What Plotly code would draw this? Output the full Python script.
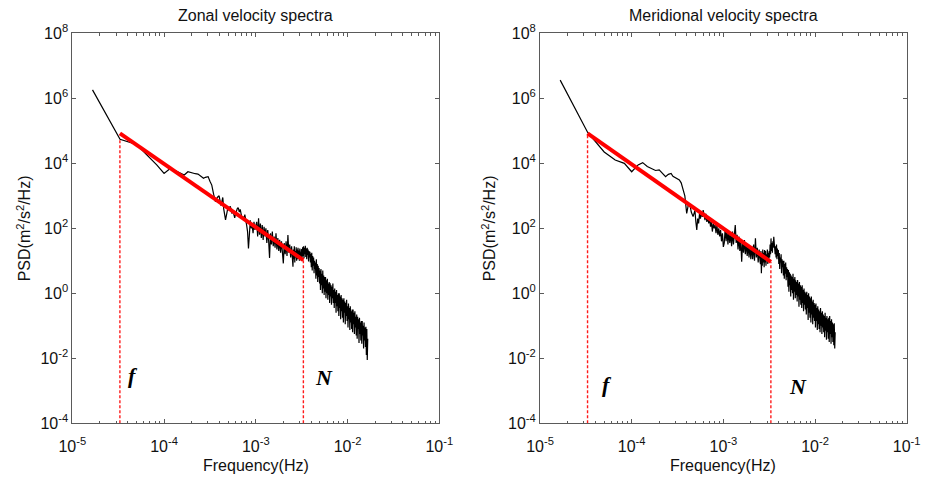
import plotly.graph_objects as go

# ---------------- data ----------------
# frequency grid, log10(Hz)
logf_low = [-4.78, -4.48, -4.30, -4.18, -4.08, -4.00, -3.93, -3.88, -3.83, -3.78,
            -3.74, -3.70, -3.66, -3.63, -3.60, -3.57, -3.55, -3.52, -3.50, -3.48,
            -3.46, -3.44, -3.42, -3.40, -3.38, -3.36, -3.35, -3.33, -3.31, -3.30]
logf_mid = [-3.29, -3.28, -3.27, -3.26, -3.25, -3.24, -3.23, -3.22, -3.21, -3.20,
            -3.19, -3.18, -3.17, -3.16, -3.15, -3.14, -3.13, -3.12, -3.11, -3.10,
            -3.09, -3.08, -3.07, -3.06, -3.05, -3.04, -3.03, -3.02, -3.01, -3.00,
            -2.99, -2.98, -2.97, -2.96, -2.95, -2.94, -2.93, -2.92, -2.91, -2.90,
            -2.89, -2.88, -2.87, -2.86, -2.85, -2.84, -2.83, -2.82, -2.81, -2.80,
            -2.79, -2.78, -2.77, -2.76, -2.75, -2.74, -2.73, -2.72, -2.71, -2.70,
            -2.69, -2.68, -2.67, -2.66, -2.65, -2.64, -2.63, -2.62, -2.61, -2.60]
logf_dense = [-2.595, -2.590, -2.585, -2.580, -2.575, -2.570, -2.565, -2.560, -2.555, -2.550,
              -2.545, -2.540, -2.535, -2.530, -2.525, -2.520, -2.515, -2.510, -2.505, -2.500,
              -2.495, -2.490, -2.485, -2.480, -2.475, -2.470, -2.465, -2.460, -2.455, -2.450,
              -2.445, -2.440, -2.435, -2.430, -2.425, -2.420, -2.415, -2.410, -2.405, -2.400,
              -2.395, -2.390, -2.385, -2.380, -2.375, -2.370, -2.365, -2.360, -2.355, -2.350,
              -2.345, -2.340, -2.335, -2.330, -2.325, -2.320, -2.315, -2.310, -2.305, -2.300,
              -2.295, -2.290, -2.285, -2.280, -2.275, -2.270, -2.265, -2.260, -2.255, -2.250,
              -2.245, -2.240, -2.235, -2.230, -2.225, -2.220, -2.215, -2.210, -2.205, -2.200,
              -2.195, -2.190, -2.185, -2.180, -2.175, -2.170, -2.165, -2.160, -2.155, -2.150,
              -2.145, -2.140, -2.135, -2.130, -2.125, -2.120, -2.115, -2.110, -2.105, -2.100,
              -2.095, -2.090, -2.085, -2.080, -2.075, -2.070, -2.065, -2.060, -2.055, -2.050,
              -2.045, -2.040, -2.035, -2.030, -2.025, -2.020, -2.015, -2.010, -2.005, -2.000,
              -1.995, -1.990, -1.985, -1.980, -1.975, -1.970, -1.965, -1.960, -1.955, -1.950,
              -1.945, -1.940, -1.935, -1.930, -1.925, -1.920, -1.915, -1.910, -1.905, -1.900,
              -1.895, -1.890, -1.885, -1.880, -1.875, -1.870, -1.865, -1.860, -1.855, -1.850,
              -1.845, -1.840, -1.835, -1.830, -1.825, -1.820, -1.815, -1.810, -1.805, -1.800,
              -1.795, -1.790, -1.785, -1.780]

# PSD, log10(m^2/s^2/Hz)
zonal_low = [6.26, 4.74, 4.58, 4.25, 3.95, 3.69, 3.85, 3.78, 3.70, 3.64,
             3.74, 3.70, 3.68, 3.67, 3.60, 3.54, 3.57, 3.59, 3.45, 3.33,
             3.05, 2.82, 2.95, 3.00, 2.70, 2.95, 2.60, 2.26, 2.55, 2.66]
zonal_mid = [2.55, 2.68, 2.60, 2.45, 2.55, 2.42, 2.32, 2.45, 2.55, 2.62,
             2.62, 2.50, 2.58, 2.40, 2.30, 2.36, 2.25, 2.42, 2.30, 2.10,
             1.90, 1.38, 1.80, 2.25, 2.00, 2.10, 1.85, 2.20, 1.95, 2.05,
             2.20, 1.75, 2.31, 1.80, 2.15, 1.70, 2.10, 1.64, 2.05, 1.75,
             2.00, 1.55, 1.95, 1.60, 1.09, 1.85, 1.50, 1.90, 1.45, 1.75,
             1.40, 1.85, 1.35, 1.70, 1.30, 1.65, 1.25, 1.60, 1.20, 0.92,
             1.55, 1.20, 1.60, 1.15, 1.79, 1.25, 1.50, 1.10, 1.45, 1.05]
zonal_dense = [0.82, 1.35, 1.05, 1.45, 0.95, 1.30, 1.10, 1.42, 1.00, 1.35,
               1.05, 1.40, 1.10, 1.32, 1.00, 1.38, 1.15, 1.30, 1.02, 1.36,
               1.10, 1.42, 1.15, 1.45, 1.08, 1.40, 1.20, 1.46, 1.12, 1.38,
               1.05, 1.40, 1.18, 1.35, 0.98, 1.30, 1.10, 1.28, 0.95, 1.22,
               0.80, 1.25, 0.70, 1.15, 0.85, 1.10, 0.62, 1.00, 0.75, 0.95,
               0.45, 1.05, 0.55, 0.90, 0.35, 0.85, 0.50, 0.78, 0.30, 0.70,
               0.10, 0.75, 0.25, 0.60, 0.00, 0.70, 0.15, 0.55, -0.05, 0.50,
               0.05, 0.50, -0.15, 0.40, 0.00, 0.45, -0.20, 0.30, -0.05, 0.35,
               -0.30, 0.31, -0.10, 0.25, -0.35, 0.20, -0.15, 0.30, -0.30, 0.10,
               -0.45, 0.15, -0.30, 0.05, -0.60, 0.10, -0.40, -0.05, -0.55, 0.00,
               -0.70, 0.00, -0.45, -0.10, -0.80, -0.05, -0.55, -0.15, -0.75, -0.20,
               -0.90, -0.15, -0.60, -0.25, -0.95, -0.30, -0.70, -0.20, -0.85, -0.40,
               -1.05, -0.31, -0.80, -0.45, -1.13, -0.40, -0.90, -0.55, -1.10, -0.50,
               -1.20, -0.50, -0.95, -0.60, -1.25, -0.55, -1.05, -0.72, -1.30, -0.65,
               -1.40, -0.72, -1.10, -0.80, -1.53, -0.75, -1.25, -0.90, -1.45, -0.85,
               -1.55, -0.85, -1.30, -1.00, -1.70, -0.90, -1.45, -1.05, -1.65, -1.03,
               -1.90, -1.10, -2.05, -1.40]

meridional_low = [6.56, 4.95, 4.35, 4.10, 4.00, 3.74, 3.95, 4.02, 3.90, 3.82,
                  3.78, 3.80, 3.66, 3.59, 3.66, 3.69, 3.60, 3.55, 3.52, 3.49,
                  3.40, 3.20, 3.00, 2.46, 2.75, 2.66, 2.50, 2.36, 2.55, 2.20]
meridional_mid = [1.95, 2.30, 2.15, 2.45, 2.30, 2.50, 2.35, 2.56, 2.40, 2.25,
                  2.45, 2.20, 2.35, 2.15, 2.30, 2.05, 2.20, 1.90, 2.15, 2.00,
                  2.10, 1.85, 2.10, 1.80, 2.00, 1.75, 1.95, 1.60, 1.85, 1.43,
                  1.55, 2.00, 1.60, 1.95, 1.50, 1.90, 1.55, 1.85, 1.45, 1.90,
                  1.50, 1.85, 2.10, 1.55, 1.80, 1.35, 1.75, 1.30, 1.65, 0.97,
                  1.60, 1.25, 1.64, 1.20, 1.55, 1.15, 1.50, 1.10, 1.45, 1.05,
                  1.45, 1.05, 1.50, 1.00, 1.69, 1.10, 1.40, 0.95, 1.35, 1.00]
meridional_dense = [0.90, 1.30, 0.62, 1.20, 0.85, 1.35, 0.95, 1.25, 0.80, 1.33,
                    0.95, 1.30, 0.85, 1.20, 1.00, 1.35, 0.90, 1.25, 1.05, 1.30,
                    1.10, 1.50, 1.20, 1.69, 1.30, 1.55, 1.25, 1.60, 1.40, 1.74,
                    1.35, 1.55, 1.20, 1.45, 1.10, 1.50, 1.05, 1.38, 1.15, 1.33,
                    0.90, 1.24, 0.75, 1.10, 0.95, 1.20, 0.62, 1.05, 0.80, 1.00,
                    0.55, 1.00, 0.45, 0.90, 0.60, 0.95, 0.40, 0.80, 0.50, 0.75,
                    0.20, 0.72, 0.05, 0.65, 0.25, 0.60, -0.10, 0.55, 0.10, 0.50,
                    0.00, 0.60, -0.20, 0.45, 0.05, 0.50, -0.15, 0.40, -0.05, 0.35,
                    -0.25, 0.41, -0.10, 0.30, -0.41, 0.35, -0.20, 0.25, -0.35, 0.20,
                    -0.45, 0.25, -0.30, 0.10, -0.55, 0.15, -0.35, 0.05, -0.50, 0.00,
                    -0.65, 0.05, -0.45, -0.05, -0.82, 0.00, -0.60, -0.10, -0.75, -0.15,
                    -0.90, -0.10, -0.65, -0.25, -0.95, -0.20, -0.75, -0.30, -0.85, -0.35,
                    -1.05, -0.31, -0.85, -0.45, -1.13, -0.40, -0.95, -0.50, -1.10, -0.55,
                    -1.20, -0.45, -1.00, -0.60, -1.25, -0.55, -1.05, -0.65, -1.20, -0.70,
                    -1.35, -0.60, -1.15, -0.75, -1.43, -0.70, -1.20, -0.80, -1.40, -0.75,
                    -1.50, -0.70, -1.25, -0.85, -1.55, -0.80, -1.35, -0.90, -1.50, -0.95,
                    -1.60, -0.92, -1.70, -1.20]

# fitted power law (red): endpoints
fit_freq = [3.3e-5, 3.3e-3]
zonal_fit_psd = [8.3e4, 10.5]
meridional_fit_psd = [8.3e4, 9.3]

# inertial (f) and buoyancy (N) frequencies, and tops of their marker lines
f_freq = 3.3e-5
N_freq = 3.3e-3
zonal_marker_top = [5.2e4, 10.5]
meridional_marker_top = [8.3e4, 9.3]

titles = ["Zonal velocity spectra", "Meridional velocity spectra"]
x_tick_vals = [1e-5, 1e-4, 1e-3, 1e-2, 1e-1]
x_tick_text = ["10<sup>-5</sup>", "10<sup>-4</sup>", "10<sup>-3</sup>", "10<sup>-2</sup>", "10<sup>-1</sup>"]
y_tick_vals = [1e-4, 1e-2, 1e0, 1e2, 1e4, 1e6, 1e8]
y_tick_text = ["10<sup>-4</sup>", "10<sup>-2</sup>", "10<sup>0</sup>", "10<sup>2</sup>",
               "10<sup>4</sup>", "10<sup>6</sup>", "10<sup>8</sup>"]
# label positions (log10 units) for f and N
zonal_label_pos = [(-4.34, -2.54), (-2.26, -2.58)]
meridional_label_pos = [(-4.27, -2.82), (-2.19, -2.87)]

# ---------------- figure ----------------
freq = [10 ** v for v in logf_low + logf_mid + logf_dense]
panels = [
    (zonal_low + zonal_mid + zonal_dense, zonal_fit_psd, zonal_marker_top, zonal_label_pos),
    (meridional_low + meridional_mid + meridional_dense, meridional_fit_psd,
     meridional_marker_top, meridional_label_pos),
]

fig = go.Figure()
AX = "#5a5a5a"
RED = "#ff1a1a"
FONT = "Liberation Sans, Arial, sans-serif"
x_domains = [[0.0782, 0.4749], [0.5838, 0.9802]]
y_domain = [0.1144, 0.9303]
minor_x = [k * 10 ** e for e in range(-5, -1) for k in range(2, 10)]

annotations = []
for i, (logpsd, fitp, mtop, labpos) in enumerate(panels):
    xa = "x" if i == 0 else "x2"
    ya = "y" if i == 0 else "y2"
    psd = [10 ** v for v in logpsd]
    fig.add_trace(go.Scatter(x=freq, y=psd, mode="lines", xaxis=xa, yaxis=ya,
                             line=dict(color="black", width=1.2), showlegend=False))
    # dashed marker lines at f and N
    fig.add_trace(go.Scatter(x=[f_freq, f_freq], y=[1e-4, mtop[0]], mode="lines", xaxis=xa, yaxis=ya,
                             line=dict(color=RED, width=1.4, dash="3px,2px"), showlegend=False))
    fig.add_trace(go.Scatter(x=[N_freq, N_freq], y=[1e-4, mtop[1]], mode="lines", xaxis=xa, yaxis=ya,
                             line=dict(color=RED, width=1.4, dash="3px,2px"), showlegend=False))
    fig.add_trace(go.Scatter(x=fit_freq, y=fitp, mode="lines", xaxis=xa, yaxis=ya,
                             line=dict(color="#ff0000", width=4), showlegend=False))

    axis_common = dict(type="log", showline=True, linecolor=AX, linewidth=1, mirror="allticks",
                       ticks="inside", tickcolor=AX, ticklen=4, showgrid=False, zeroline=False,
                       automargin=False,
                       tickfont=dict(family=FONT, size=16, color="#111"))
    xkey = "xaxis" if i == 0 else "xaxis2"
    ykey = "yaxis" if i == 0 else "yaxis2"
    fig.update_layout(**{
        xkey: dict(axis_common, domain=x_domains[i], range=[-5, -1], anchor=ya,
                   tickmode="array", tickvals=x_tick_vals, ticktext=x_tick_text,
                   ticklabelstandoff=8,
                   minor=dict(tickmode="array", tickvals=minor_x, ticks="inside", ticklen=2.5,
                              tickcolor=AX, showgrid=False)),
        ykey: dict(axis_common, domain=y_domain, range=[-4, 8], anchor=xa,
                   tickmode="array", tickvals=y_tick_vals, ticktext=y_tick_text),
    })
    xc = (x_domains[i][0] + x_domains[i][1]) / 2
    annotations.append(dict(text=titles[i], xref="paper", yref="paper", x=xc, y=1 - 16 / 478,
                            xanchor="center", yanchor="middle", showarrow=False,
                            font=dict(family=FONT, size=16, color="#111")))
    annotations.append(dict(text="Frequency(Hz)", xref="paper", yref="paper", x=xc, y=1 - 465 / 478,
                            xanchor="center", yanchor="middle", showarrow=False,
                            font=dict(family=FONT, size=16, color="#111")))
    annotations.append(dict(text="PSD(m<sup>2</sup>/s<sup>2</sup>/Hz)", xref="paper", yref="paper",
                            x=(24 if i == 0 else 489) / 925, y=(y_domain[0] + y_domain[1]) / 2,
                            xanchor="center", yanchor="middle", textangle=-90, showarrow=False,
                            font=dict(family=FONT, size=16, color="#111")))
    for txt, (lx, ly) in zip(["f", "N"], labpos):
        annotations.append(dict(text="<b><i>%s</i></b>" % txt, xref=xa, yref=ya, x=lx, y=ly,
                                xanchor="center", yanchor="middle", showarrow=False,
                                font=dict(family="Liberation Serif, Times New Roman, serif",
                                          size=22, color="black")))

fig.update_layout(width=925, height=478, margin=dict(l=0, r=0, t=0, b=0),
                  paper_bgcolor="white", plot_bgcolor="white", annotations=annotations,
                  showlegend=False)
fig.write_html("out.html")
